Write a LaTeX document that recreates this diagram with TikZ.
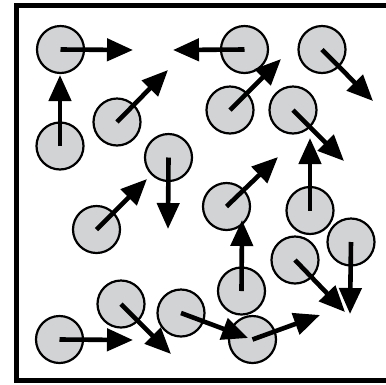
\documentclass[tikz,border=0pt]{standalone}
\usetikzlibrary{arrows.meta}
\definecolor{ballgray}{RGB}{209,211,212}
\tikzset{
  ball/.style={circle, draw=black, line width=2.2pt, fill=ballgray, minimum size=47pt, inner sep=0pt},
  vec/.style={line width=4.6pt, -{Triangle[length=26pt,width=22pt]}},
  frameline/.style={line width=5pt}
}
\begin{document}
\begin{tikzpicture}[x=1pt,y=-1pt]
\useasboundingbox (0,0) rectangle (386,384);
\fill[white] (0,0) rectangle (386,384);
% frame
\coordinate (f1) at (386,5.8);
\coordinate (f2) at (16.5,5.8);
\coordinate (f3) at (16.5,380.5);
\coordinate (f4) at (386,380.5);
\draw[frameline] (f1) -- (f2) -- (f3) -- (f4);
% balls
\node[ball] (c1) at (60.5,49.5) {};
\node[ball] (c2) at (60,146) {};
\node[ball] (c3) at (117,122) {};
\node[ball] (c4) at (168.5,157.5) {};
\node[ball] (c5) at (244.5,49.5) {};
\node[ball] (c6) at (322,49.5) {};
\node[ball] (c7) at (230,110) {};
\node[ball] (c8) at (293,110) {};
\node[ball] (c9) at (310,210.5) {};
\node[ball] (c10) at (96.5,229.5) {};
\node[ball] (c11) at (226.5,206.5) {};
\node[ball] (c12) at (241.5,291) {};
\node[ball] (c14) at (351,242) {};
\node[ball] (c15) at (295,260) {};
\node[ball] (c16) at (252.5,339.5) {};
\node[ball] (c18) at (121,304) {};
\node[ball] (c19) at (181,313) {};
\node[ball] (c20) at (59.5,339.5) {};
% arrow tips
\coordinate (t1) at (133,50);
\coordinate (t2) at (60,75);
\coordinate (t3) at (168,70);
\coordinate (t4) at (168,229);
\coordinate (t5) at (173,50);
\coordinate (t6) at (373,101);
\coordinate (t7) at (281,59);
\coordinate (t8) at (344,161);
\coordinate (t9) at (310,138);
\coordinate (t10) at (147,179);
\coordinate (t11) at (278,157);
\coordinate (t12) at (242,220);
\coordinate (t14) at (350,314);
\coordinate (t15) at (345,312);
\coordinate (t16) at (320,315);
\coordinate (t18) at (171,354);
\coordinate (t19) at (248,338);
\coordinate (t20) at (133,340);
% velocity arrows
\foreach \i in {1,2,3,4,5,6,7,8,9,10,11,12,14,15,16,18,19,20}
  \draw[vec] (c\i.center) -- (t\i);
\end{tikzpicture}
\end{document}
